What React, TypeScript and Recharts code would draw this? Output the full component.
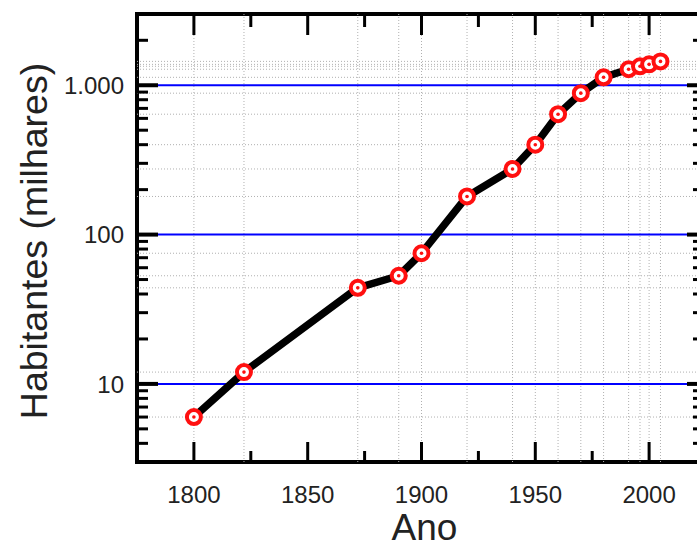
import React from 'react';
import { LineChart, Line, XAxis, YAxis, ReferenceLine, ReferenceArea } from 'recharts';

const years = [1800, 1822, 1872, 1890, 1900, 1920, 1940, 1950, 1960, 1970, 1980, 1991, 1996, 2000, 2005];
const population = [6, 12, 44, 53, 75, 180, 275, 400, 640, 885, 1130, 1280, 1340, 1380, 1445];
const xTicks = [1800, 1825, 1850, 1875, 1900, 1925, 1950, 1975, 2000];
const xMajorTicks = [1800, 1850, 1900, 1950, 2000];
const yTicks = [3, 4, 5, 6, 7, 8, 9, 10, 20, 30, 40, 50, 60, 70, 80, 90, 100, 200, 300, 400, 500, 600, 700, 800, 900, 1000, 2000, 3000];
const yMajorTicks = [10, 100, 1000];
const yMajorLabels = ['10', '100', '1.000'];
const xDomain = [1775, 2025];
const yDomain = [3, 3000];

const data = years.map((y, i) => ({ year: y, pop: population[i] }));

const W = 712;
const H = 547;
const PLOT_LEFT = 137;
const PLOT_RIGHT = 706;
const PLOT_TOP = 14;
const PLOT_BOTTOM = 462;
const FONT = '"Liberation Sans", Arial, Helvetica, sans-serif';
const TEXT = '#222';

const XTick = (p: any) => {
  const { x, payload } = p;
  const v = payload.value;
  const major = xMajorTicks.includes(v);
  const lb = major ? 20 : 11;
  const lt = major ? 21 : 13;
  return (
    <g>
      <line x1={x} x2={x} y1={PLOT_BOTTOM} y2={PLOT_BOTTOM - lb} stroke="#000" strokeWidth={3} />
      <line x1={x} x2={x} y1={PLOT_TOP} y2={PLOT_TOP + lt} stroke="#000" strokeWidth={3} />
      {major && (
        <text x={x} y={PLOT_BOTTOM + 41} textAnchor="middle" fontFamily={FONT} fontSize={24} fill={TEXT}>
          {v}
        </text>
      )}
    </g>
  );
};

const YTick = (p: any) => {
  const { y, payload } = p;
  const v = payload.value;
  const mi = yMajorTicks.indexOf(v);
  const major = mi >= 0;
  const l = major ? 21 : 11;
  const r = major ? 19 : 13;
  return (
    <g>
      <line x1={PLOT_LEFT} x2={PLOT_LEFT + l} y1={y} y2={y} stroke="#000" strokeWidth={major ? 4 : 3} />
      <line x1={PLOT_RIGHT} x2={PLOT_RIGHT - r} y1={y} y2={y} stroke="#000" strokeWidth={major ? 4 : 3} />
      {major && (
        <text x={PLOT_LEFT - 13} y={y} dy="0.36em" textAnchor="end" fontFamily={FONT} fontSize={24} fill={TEXT}>
          {yMajorLabels[mi]}
        </text>
      )}
    </g>
  );
};

const Marker = (p: any) => {
  const { cx, cy, index } = p;
  if (cx == null || cy == null) return null;
  return (
    <g key={`m-${index}`}>
      <circle cx={cx} cy={cy} r={7} fill="#fff" stroke="#ff1010" strokeWidth={4} />
      <circle cx={cx} cy={cy} r={1.8} fill="#ff1010" />
    </g>
  );
};

export default function App() {
  return (
    <div style={{ position: 'fixed', left: 0, top: 0, width: 697, height: 547, overflow: 'hidden', background: '#fff' }}>
      <LineChart width={W} height={H} data={data} margin={{ top: PLOT_TOP, right: W - PLOT_RIGHT, bottom: 0, left: 0 }}>
        <XAxis
          dataKey="year"
          type="number"
          domain={xDomain}
          ticks={xTicks}
          allowDataOverflow
          height={H - PLOT_BOTTOM}
          axisLine={false}
          tickLine={false}
          tick={<XTick />}
          interval={0}
          label={{
            content: (props: any) => {
              const vb = props.viewBox;
              return (
                <text x={vb.x + vb.width / 2 + 3} y={H - 7} textAnchor="middle" fontFamily={FONT} fontSize={37} fill={TEXT}>
                  Ano
                </text>
              );
            },
          }}
        />
        <YAxis
          type="number"
          scale="log"
          domain={yDomain}
          ticks={yTicks}
          allowDataOverflow
          width={PLOT_LEFT}
          axisLine={false}
          tickLine={false}
          tick={<YTick />}
          interval={0}
          label={{
            content: (props: any) => {
              const vb = props.viewBox;
              const cy = vb.y + vb.height / 2 + 3;
              return (
                <text x={33} y={cy} transform={`rotate(-90, 33, ${cy})`} dy="0.36em" textAnchor="middle" fontFamily={FONT} fontSize={37.5} fill={TEXT}>
                  Habitantes (milhares)
                </text>
              );
            },
          }}
        />
        {years.map((yr) => (
          <ReferenceLine key={`vx-${yr}`} x={yr} stroke="#b0b0b0" strokeWidth={1} strokeDasharray="1 2" />
        ))}
        {population.map((v, i) => (
          <ReferenceLine key={`hy-${i}`} y={v} stroke="#b0b0b0" strokeWidth={1} strokeDasharray="1 2" />
        ))}
        {yMajorTicks.map((v) => (
          <ReferenceLine key={`blue-${v}`} y={v} stroke="#0000ff" strokeWidth={2} />
        ))}
        <ReferenceArea x1={xDomain[0]} x2={xDomain[1]} y1={yDomain[0]} y2={yDomain[1]} fill="none" stroke="#000" strokeWidth={4} ifOverflow="visible" />
        <Line
          type="linear"
          dataKey="pop"
          stroke="#000"
          strokeWidth={7.5}
          strokeLinejoin="round"
          dot={<Marker />}
          isAnimationActive={false}
        />
      </LineChart>
    </div>
  );
}
